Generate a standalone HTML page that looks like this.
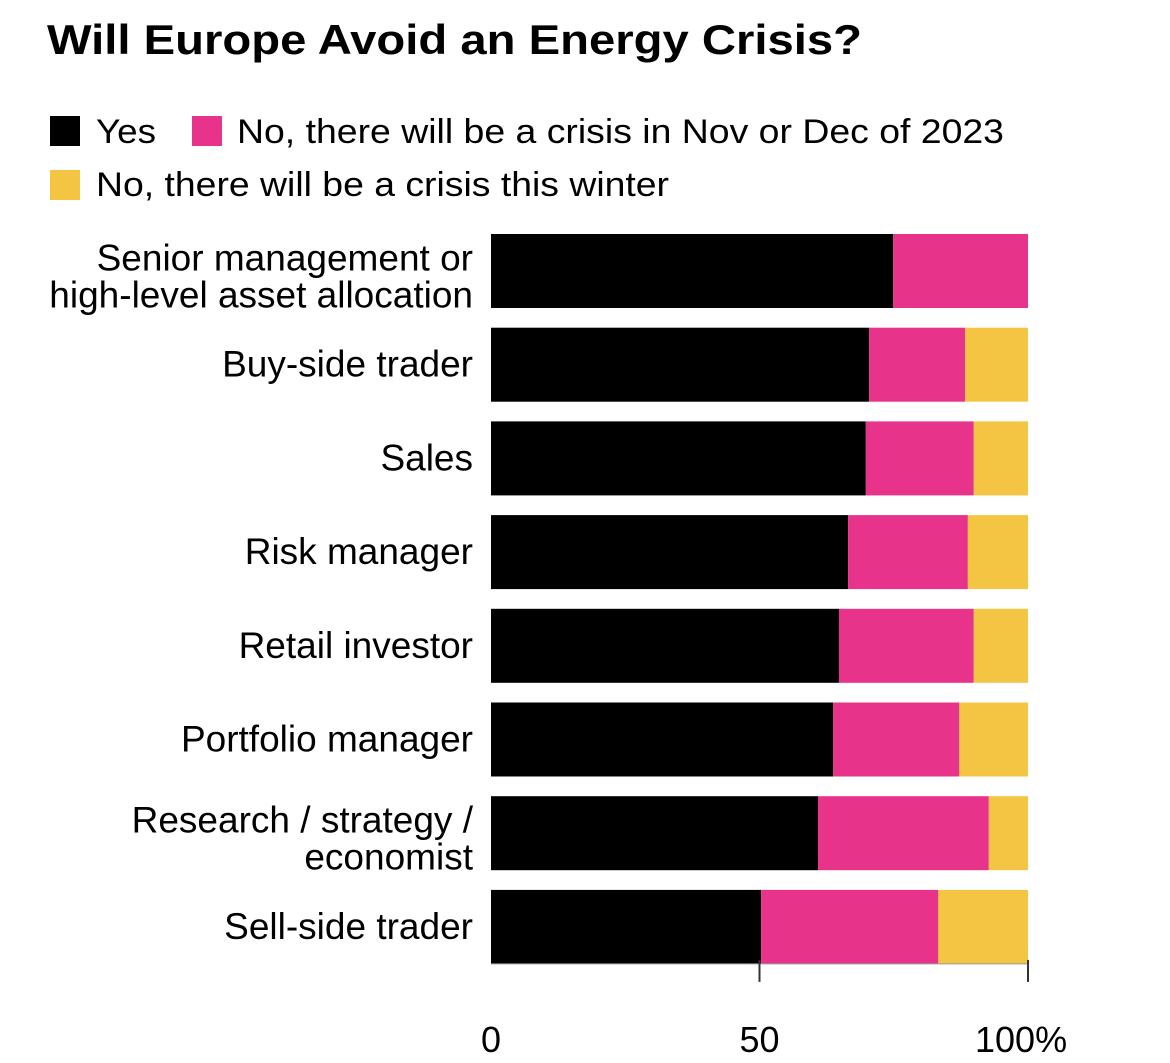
<!DOCTYPE html>
<html><head><meta charset="utf-8"><style>
body{margin:0;background:#fff;}
svg{display:block;font-family:"Liberation Sans",Arial,sans-serif;}
</style></head><body>
<svg id="chart" width="1170" height="1063" viewBox="0 0 1170 1063">
<text x="47" y="54" font-size="42" font-weight="bold" textLength="815" lengthAdjust="spacingAndGlyphs">Will Europe Avoid an Energy Crisis?</text>
<g>
<rect x="50" y="116" width="30" height="30" fill="#000"/>
<text x="96" y="143" font-size="34" textLength="60" lengthAdjust="spacingAndGlyphs">Yes</text>
<rect x="192" y="116" width="30" height="30" fill="#e8338a"/>
<text x="237" y="143" font-size="34" textLength="767" lengthAdjust="spacingAndGlyphs">No, there will be a crisis in Nov or Dec of 2023</text>
<rect x="50" y="170" width="30" height="30" fill="#f4c542"/>
<text x="96" y="196" font-size="34" textLength="573" lengthAdjust="spacingAndGlyphs">No, there will be a crisis this winter</text>
</g>
<g id="bars"></g>
<g id="axis"></g>
</svg>
<script>
const categories=[["Senior management or","high-level asset allocation"],["Buy-side trader"],["Sales"],["Risk manager"],["Retail investor"],["Portfolio manager"],["Research / strategy /","economist"],["Sell-side trader"]];
const yesValues=[74.9,70.4,69.8,66.5,64.8,63.7,60.9,50.3];
const novDecValues=[25.1,17.9,20.1,22.3,25.1,23.5,31.8,33.0];
const winterValues=[0,11.7,10.1,11.2,10.1,12.8,7.3,16.7];
const tickValues=[0,50,100];
const tickLabels=["0","50","100%"];
const NS="http://www.w3.org/2000/svg";
const x0=491,x1=1028,top0=234,pitch=93.7,bh=74;
const xs=v=>x0+(x1-x0)*v/100;
const ys=i=>top0+i*pitch;
const bars=document.getElementById('bars'),axis=document.getElementById('axis');
function mk(tag,attrs,parent){const e=document.createElementNS(NS,tag);for(const k in attrs)e.setAttribute(k,attrs[k]);parent.appendChild(e);return e;}
const series=[[yesValues,"#000","yes"],[novDecValues,"#e8338a","nov-dec"],[winterValues,"#f4c542","winter"]];
categories.forEach((c,i)=>{
  let acc=0;
  series.forEach(([vals,col,nm])=>{
    const v=vals[i];
    if(v>0){
      const r=mk('rect',{x:xs(acc),y:ys(i),width:xs(acc+v)-xs(acc),height:bh,fill:col},bars);
      
      
    }
    acc+=v;
  });
  const cy=ys(i)+bh/2;
  c.forEach((line,j)=>{
    const off=c.length>1?6:0;
    const t=mk('text',{x:473,y:cy+12+off+(j-(c.length-1)/2)*37,'font-size':37,'text-anchor':'end'},bars);
    t.textContent=line;
    
    
  });
});
const base=ys(categories.length-1)+bh;
const bl=mk('line',{x1:x0,x2:x1,y1:base,y2:base,stroke:'#999','stroke-width':1},axis);


tickValues.forEach((v,i)=>{
  if(v>0){
    const tk=mk('line',{x1:xs(v),x2:xs(v),y1:base-4,y2:base+18,stroke:'#333','stroke-width':2},axis);
    
    
  }
  const t=mk('text',{x:xs(v),y:1052,'font-size':36,'text-anchor':i===tickValues.length-1?'start':'middle'},axis);
  if(i===tickValues.length-1){t.setAttribute('x',975);}
  t.textContent=tickLabels[i];
  
  
});
</script>
</body></html>
